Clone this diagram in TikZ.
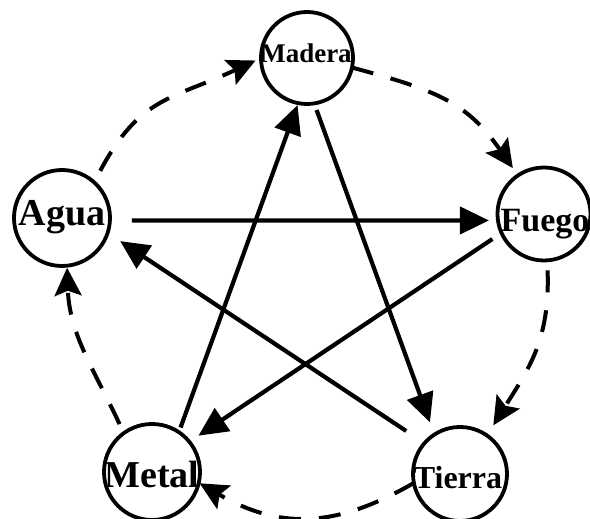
\documentclass[tikz,border=0pt]{standalone}
\usepackage{fontspec}
\setmainfont{Liberation Serif}
\usetikzlibrary{arrows.meta}
\begin{document}
\begin{tikzpicture}[x=1pt,y=1pt,
  elem/.style={circle, draw, line width=3.8pt, minimum size=96pt, inner sep=0pt, outer sep=0pt},
  lbl/.style={anchor=base, inner sep=0pt},
  gen/.style={line width=4pt, dash pattern=on 22pt off 18pt, -{Stealth[length=28pt,width=27pt,inset=5pt]}},
  ctl/.style={line width=4.2pt, -{Triangle[length=29pt,width=27pt]}}]
\useasboundingbox (0,0) rectangle (590,519);
\fill[white] (0,0) rectangle (590,519);
% elements
\node[elem, minimum size=92pt] (madera) at (307,461) {};
\node[elem] (agua) at (62,301) {};
\node[elem, minimum size=93pt] (fuego) at (544,305) {};
\node[elem] (metal) at (152,47) {};
\node[elem, minimum size=94pt] (tierra) at (460,45) {};
% labels
\node[lbl, font=\bfseries\fontsize{27}{27}\selectfont] (tmadera) at (306,456) {Madera};
\node[lbl, font=\bfseries\fontsize{38}{38}\selectfont] (tagua) at (62,293) {Agua};
\node[lbl, font=\bfseries\fontsize{34}{34}\selectfont] (tfuego) at (545,287) {Fuego};
\node[lbl, font=\bfseries\fontsize{38}{38}\selectfont] (tmetal) at (152,31) {Metal};
\node[lbl, font=\bfseries\fontsize{32}{32}\selectfont] (ttierra) at (458,30) {Tierra};
% control cycle (solid star)
\draw[ctl, shorten <=22pt, shorten >=9pt] (agua.-3) -- (fuego.188);
\draw[ctl, shorten <=11pt, shorten >=11pt] (fuego.-156) -- (metal.39);
\draw[ctl, shorten <=5pt, shorten >=2pt] (metal.56) -- (madera.-101);
\draw[ctl, shorten <=7pt, shorten >=13pt] (madera.-81) -- (tierra.123);
\draw[ctl, shorten <=22pt, shorten >=15pt] (tierra.139) -- (agua.-18);
% generation cycle (dashed)
\draw[gen, shorten <=13pt, shorten >=6pt] (agua.48) to[out=62,in=205,looseness=1.2] (madera.180);
\draw[gen, shorten >=9pt] (madera.-12) to[out=-15,in=125,looseness=1.15] (fuego.124);
\draw[gen, shorten <=10pt, shorten >=12pt] (fuego.-86) to[out=-88,in=58,looseness=1.1] (tierra.55);
\draw[gen, shorten >=1pt] (tierra.-169) to[out=-150,in=-30,looseness=1.1] (metal.-13);
\draw[gen, shorten <=10pt, shorten >=2pt] (metal.126) to[out=115,in=-88] (agua.-84);
\end{tikzpicture}
\end{document}
